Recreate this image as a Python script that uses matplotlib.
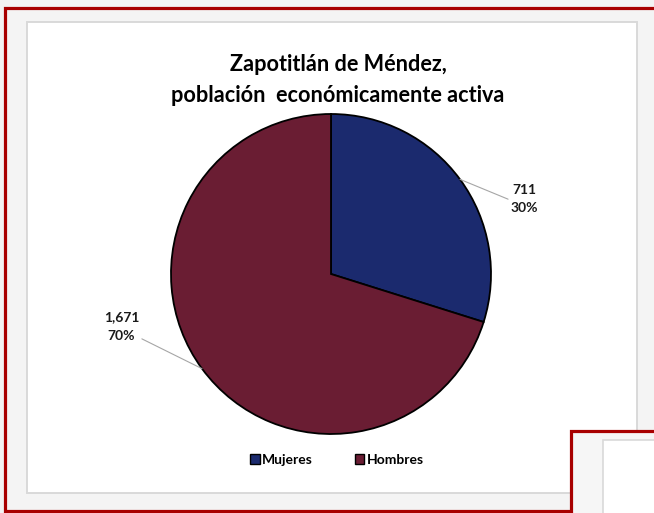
import matplotlib
matplotlib.use("Agg")
import matplotlib.pyplot as plt
from matplotlib.patches import Rectangle, Patch
import math

categories = ["Mujeres", "Hombres"]
values = [711, 1671]
value_labels = ["711", "1,671"]
colors = ["#1b2a6e", "#6a1d33"]
title = "Zapotitlán de Méndez,\npoblación  económicamente activa"

W, H = 654, 513
plt.rcParams['font.family'] = ['Lato', 'DejaVu Sans']
fig = plt.figure(figsize=(W / 100, H / 100), dpi=100, facecolor="#f3f3f3")

def rect(x0, y0, x1, y1, **kw):
    r = Rectangle((x0 / W, 1 - y1 / H), (x1 - x0) / W, (y1 - y0) / H,
                  transform=fig.transFigure, figure=fig, zorder=-5, **kw)
    fig.patches.append(r)

# frames
rect(5, 8, 700, 511, facecolor="#f4f4f4", edgecolor="#a80000", lw=2.3)
rect(27, 22, 637, 493, facecolor="white", edgecolor="#d9d9d9", lw=1.4)
rect(571, 431, 700, 560, facecolor="#f6f6f6", edgecolor="#a80000", lw=2.3)
rect(603, 440, 700, 560, facecolor="white", edgecolor="#d9d9d9", lw=1.2)

# pie
cx, cy, R = 331, 274, 160
ax = fig.add_axes([(cx - R) / W, 1 - (cy + R) / H, 2 * R / W, 2 * R / H])
ax.set_zorder(5)
ax.patch.set_visible(False)
wedges, _ = ax.pie(values, colors=colors, startangle=90, counterclock=False,
                   wedgeprops=dict(edgecolor="black", linewidth=1.3))
ax.set_xlim(-1, 1)
ax.set_ylim(-1, 1)
ax.set_aspect("equal")
ax.axis("off")

total = sum(values)
text_pos = [(1.21, 0.47), (-1.31, -0.33)]
relpos = [(0.0, 0.45), (1.0, 0.15)]
for w, v, lab, tp, rp in zip(wedges, values, value_labels, text_pos, relpos):
    ang = math.radians((w.theta1 + w.theta2) / 2)
    xy = (math.cos(ang), math.sin(ang))
    pct = f"{round(100 * v / total)}%"
    ax.annotate(f"{lab}\n{pct}", xy=xy, xytext=tp, ha="center", va="center",
                fontsize=10, fontweight="bold", color="#1a1a1a", linespacing=1.65,
                annotation_clip=False,
                arrowprops=dict(arrowstyle="-", color="#a6a6a6", lw=0.8,
                                shrinkA=0, shrinkB=0, relpos=rp))

fig.text(338 / W, 1 - 80 / H, title, ha="center", va="center", fontsize=15.6,
         fontweight="bold", color="black", linespacing=1.6)

handles = [Patch(facecolor=c, edgecolor="black", lw=1.0) for c in colors]
fig.legend(handles, categories, loc="center", bbox_to_anchor=(337 / W, 1 - 460 / H),
           ncol=2, frameon=False, prop=dict(size=10, weight="bold"),
           handlelength=0.7, handleheight=0.7, handletextpad=0.15, columnspacing=3.0)

fig.savefig("out.png", dpi=100, facecolor=fig.get_facecolor())
